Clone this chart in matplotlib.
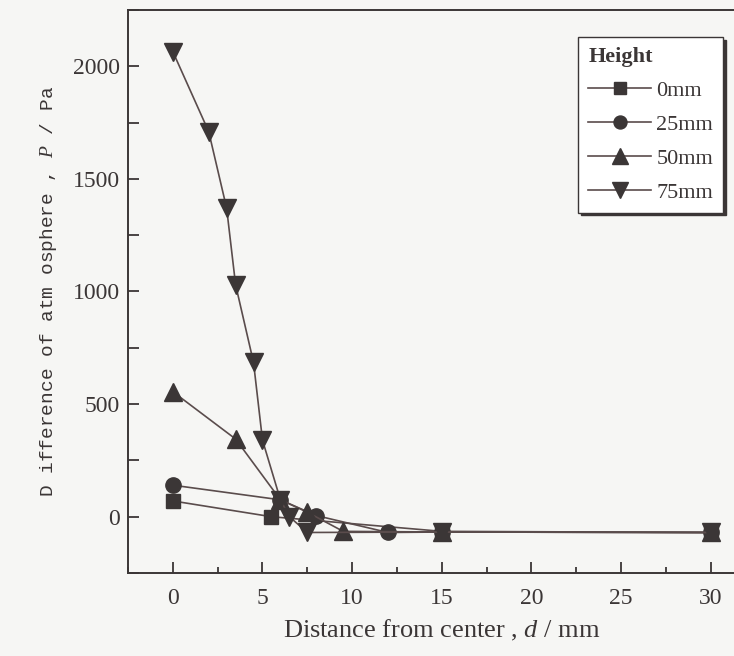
import matplotlib
matplotlib.use("Agg")
import matplotlib.pyplot as plt
from matplotlib.ticker import MultipleLocator

# pressure difference vs. distance from center, per nozzle height
d_0mm = [0, 5.5, 15, 30]
p_0mm = [70, 0, -65, -70]

d_25mm = [0, 6, 8, 12, 15, 30]
p_25mm = [140, 75, 5, -70, -68, -70]

d_50mm = [0, 3.5, 6, 7.5, 9.5, 15, 30]
p_50mm = [555, 345, 75, 20, -65, -68, -70]

d_75mm = [0, 2, 3, 3.5, 4.5, 5, 6, 6.5, 7.5, 15, 30]
p_75mm = [2065, 1710, 1370, 1030, 685, 340, 75, 0, -70, -68, -70]

labels = ['0mm', '25mm', '50mm', '75mm']
markers = ['s', 'o', '^', 'v']
msizes = [10, 11, 13, 13]

bg = '#f6f6f4'
ink = '#3b3636'
line_c = '#5a4c4c'

plt.rcParams['font.family'] = ['Liberation Serif', 'DejaVu Serif']
plt.rcParams['mathtext.fontset'] = 'custom'
plt.rcParams['mathtext.rm'] = 'Liberation Serif'
plt.rcParams['mathtext.it'] = 'Liberation Serif:italic'

fig = plt.figure(figsize=(7.34, 6.56), dpi=100, facecolor=bg)
ax = fig.add_axes([0.1744, 0.1265, 0.855, 0.8583])
ax.set_facecolor(bg)

series = [(d_0mm, p_0mm), (d_25mm, p_25mm), (d_50mm, p_50mm), (d_75mm, p_75mm)]
for (d, p), lab, mk, ms in zip(series, labels, markers, msizes):
    ax.plot(d, p, color=line_c, lw=1.2, marker=mk, ms=ms,
            mfc=ink, mec=ink, label=lab)

ax.set_xlim(-2.5, 32.5)
ax.set_ylim(-250, 2250)
ax.xaxis.set_major_locator(MultipleLocator(5))
ax.xaxis.set_minor_locator(MultipleLocator(2.5))
ax.yaxis.set_major_locator(MultipleLocator(500))
ax.yaxis.set_minor_locator(MultipleLocator(250))
ax.tick_params(axis='both', which='both', direction='in', colors=ink,
               width=1.3, labelsize=17, labelcolor=ink)
ax.tick_params(axis='x', which='major', length=8, pad=11)
ax.tick_params(axis='x', which='minor', length=4)
ax.tick_params(axis='y', which='both', length=8, pad=6)
ax.tick_params(top=False, right=False, which='both')

for s in ax.spines.values():
    s.set_color(ink)
    s.set_linewidth(1.4)

ax.set_xlabel('Distance from center , $\\it{d}$ / mm', fontsize=19, color=ink, labelpad=6)
ax.set_ylabel('D ifference of atm osphere , $\\it{P}$ / Pa', family='Liberation Mono',
              fontsize=14, color=ink, labelpad=10)

leg = ax.legend(title='Height', loc='upper right',
                bbox_to_anchor=(723 / 734, 1 - 37 / 656), bbox_transform=fig.transFigure,
                borderaxespad=0,
                fontsize=16, title_fontproperties={'weight': 'bold', 'size': 16},
                frameon=True, fancybox=False, shadow={'color': ink, 'alpha': 1.0},
                handlelength=2.8, handletextpad=0.25, borderpad=0.45,
                labelspacing=0.6, markerscale=0.85)
leg.get_frame().set_edgecolor(ink)
leg.get_frame().set_facecolor('white')
leg.get_frame().set_linewidth(1.0)
leg.get_title().set_color(ink)
for t in leg.get_texts():
    t.set_color(ink)
leg._legend_box.align = 'left'

fig.savefig('out.png', dpi=100, facecolor=bg)
